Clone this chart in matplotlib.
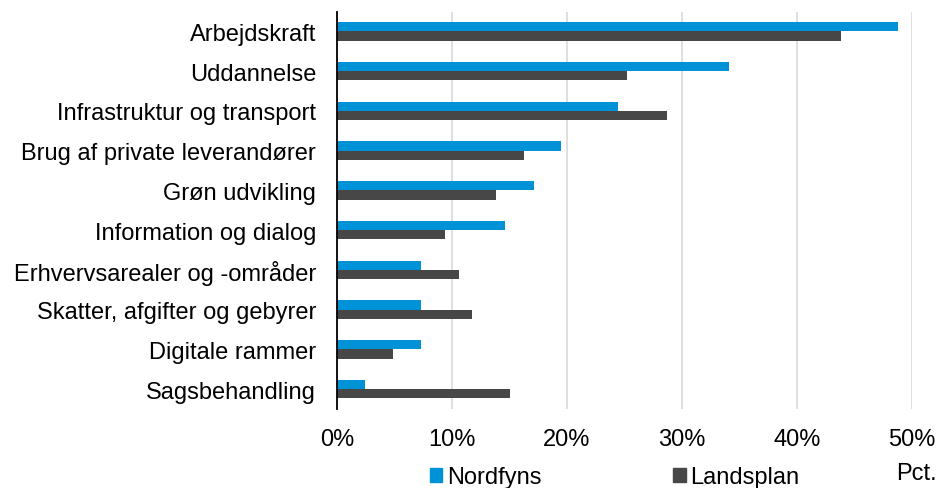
import matplotlib
matplotlib.use("Agg")
import matplotlib.pyplot as plt
import numpy as np
from matplotlib.patches import Patch

categories = ["Arbejdskraft", "Uddannelse", "Infrastruktur og transport",
              "Brug af private leverandører", "Grøn udvikling",
              "Information og dialog", "Erhvervsarealer og -områder",
              "Skatter, afgifter og gebyrer", "Digitale rammer",
              "Sagsbehandling"]
nordfyns = [48.8, 34.1, 24.4, 19.5, 17.1, 14.6, 7.3, 7.3, 7.3, 2.4]
landsplan = [43.8, 25.2, 28.7, 16.3, 13.8, 9.4, 10.6, 11.7, 4.9, 15.0]
xticks = [0, 10, 20, 30, 40, 50]
xticklabels = ["0%", "10%", "20%", "30%", "40%", "50%"]

plt.rcParams['font.family'] = ['Liberation Sans', 'DejaVu Sans']
FS = 17
BLUE = "#0092D6"
GRAY = "#474747"

fig = plt.figure(figsize=(9.4, 4.89), dpi=100)
ax = fig.add_axes([337/940, 1-410/489, (912-337)/940, (410-12.5)/489])

y = np.arange(len(categories))
h = 0.235
ax.barh(y - h/2, nordfyns, height=h, color=BLUE, zorder=3)
ax.barh(y + h/2, landsplan, height=h, color=GRAY, zorder=3)

ax.set_ylim(len(categories) - 0.5, -0.5)
ax.set_xlim(0, 50)
ax.set_yticks(y)
ax.set_yticklabels(categories, fontsize=FS)
ax.set_xticks(xticks)
ax.set_xticklabels(xticklabels, fontsize=FS)
ax.tick_params(axis='y', length=0, pad=15)
ax.tick_params(axis='x', length=0, pad=14)
ax.grid(axis='x', color='#D9D9D9', linewidth=1.2, zorder=0)
for s in ['top', 'right', 'bottom']:
    ax.spines[s].set_visible(False)
ax.spines['left'].set_color('black')
ax.spines['left'].set_linewidth(1.3)
ax.spines['left'].set_zorder(4)

handles = [Patch(color=BLUE, label="Nordfyns"), Patch(color=GRAY, label="Landsplan")]
fig.legend(handles=handles, loc='center', bbox_to_anchor=(614.7/940, 1-478/489),
           ncol=2, frameon=False, fontsize=FS, handlelength=0.53, handleheight=0.53,
           handletextpad=0.21, columnspacing=5.57, borderaxespad=0, borderpad=0)
fig.text(916/940, 1-474/489, "Pct.", fontsize=FS, ha='center', va='center')

fig.savefig("out.png", dpi=100)
